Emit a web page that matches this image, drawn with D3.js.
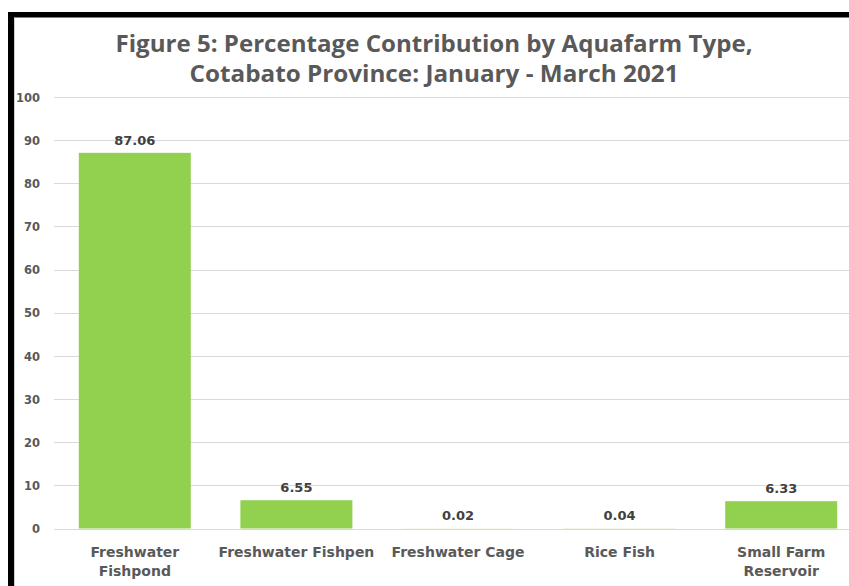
<!DOCTYPE html>
<html>
<head>
<meta charset="utf-8">
<script src="https://cdn.jsdelivr.net/npm/d3@7"></script>
<style>
  html, body { margin: 0; padding: 0; background: #fff; }
  svg { display: block; }
</style>
</head>
<body>
<svg id="chart" width="849" height="586"></svg>
<script>
const categories = ["Freshwater Fishpond", "Freshwater Fishpen", "Freshwater Cage", "Rice Fish", "Small Farm Reservoir"];
const labelLines = [["Freshwater", "Fishpond"], ["Freshwater Fishpen"], ["Freshwater Cage"], ["Rice Fish"], ["Small Farm", "Reservoir"]];
const values = [87.06, 6.55, 0.02, 0.04, 6.33];
const yTicks = [0, 10, 20, 30, 40, 50, 60, 70, 80, 90, 100];
const titleLines = ["Figure 5: Percentage Contribution by Aquafarm Type,", "Cotabato Province: January - March 2021"];

const W = 849, H = 586;
const svg = d3.select("#chart");
const textColor = "#595959";

svg.append("rect").attr("x", 0).attr("y", 0).attr("width", W).attr("height", H).attr("fill", "#fff");

// frame (black border top and left)
svg.append("rect").attr("x", 8).attr("y", 12).attr("width", W - 8).attr("height", 5.5).attr("fill", "#000");
svg.append("rect").attr("x", 8).attr("y", 12).attr("width", 6).attr("height", H - 12).attr("fill", "#000");
svg.append("line").attr("x1", 14.5).attr("x2", 14.5).attr("y1", 17.5).attr("y2", H).attr("stroke", "#d0d0d0").attr("stroke-width", 1);

const x = d3.scaleBand().domain(categories).range([54, 862]).paddingInner(0.307).paddingOuter(0.1535);
const y = d3.scaleLinear().domain([0, 100]).range([528.5, 97]);

// gridlines
svg.append("g").selectAll("line").data(yTicks).join("line")
  .attr("x1", 54).attr("x2", 862)
  .attr("y1", d => Math.round(y(d)) + 0.5).attr("y2", d => Math.round(y(d)) + 0.5)
  .attr("stroke", "#d9d9d9").attr("stroke-width", 1);

// y-axis labels
const yAxis = d3.axisLeft(y).tickValues(yTicks).tickSize(0).tickPadding(0);
const yg = svg.append("g").attr("transform", "translate(40,0)").call(yAxis);
yg.select(".domain").remove();
yg.selectAll("text")
  .attr("font-family", "DejaVu Sans").attr("font-weight", "bold").attr("font-size", "11.5px")
  .attr("fill", textColor).attr("dy", "0.36em");

// bars
svg.append("g").selectAll("rect").data(values).join("rect")
  .attr("x", (d, i) => x(categories[i]))
  .attr("width", x.bandwidth())
  .attr("y", d => y(d))
  .attr("height", d => y(0) - y(d))
  .attr("fill", "#92d050");

// value labels
svg.append("g").selectAll("text").data(values).join("text")
  .attr("x", (d, i) => x(categories[i]) + x.bandwidth() / 2)
  .attr("y", d => y(d) - 8)
  .attr("text-anchor", "middle")
  .attr("font-family", "DejaVu Sans").attr("font-weight", "bold").attr("font-size", "13px")
  .attr("fill", "#404040")
  .text(d => d.toFixed(2));

// category labels
const xAxis = d3.axisBottom(x).tickSize(0).tickPadding(0).tickFormat("");
const xg = svg.append("g").attr("transform", "translate(0,528.5)").call(xAxis);
xg.select(".domain").remove();
xg.selectAll(".tick").each(function(d, i) {
  const t = d3.select(this).append("text")
    .attr("text-anchor", "middle")
    .attr("font-family", "DejaVu Sans").attr("font-weight", "bold").attr("font-size", "14px")
    .attr("fill", textColor);
  labelLines[i].forEach((ln, k) => {
    t.append("tspan").attr("x", 0).attr("y", 28 + k * 19).text(ln);
  });
});

// title
const titleWidths = [637, 489];
titleLines.forEach((ln, k) => {
  svg.append("text")
    .attr("x", 434).attr("y", 51.5 + k * 30)
    .attr("text-anchor", "middle")
    .attr("font-family", "Open Sans").attr("font-weight", "bold").attr("font-size", "22.5px")
    .attr("fill", textColor)
    .attr("textLength", titleWidths[k]).attr("lengthAdjust", "spacingAndGlyphs")
    .text(ln);
});
</script>
</body>
</html>
